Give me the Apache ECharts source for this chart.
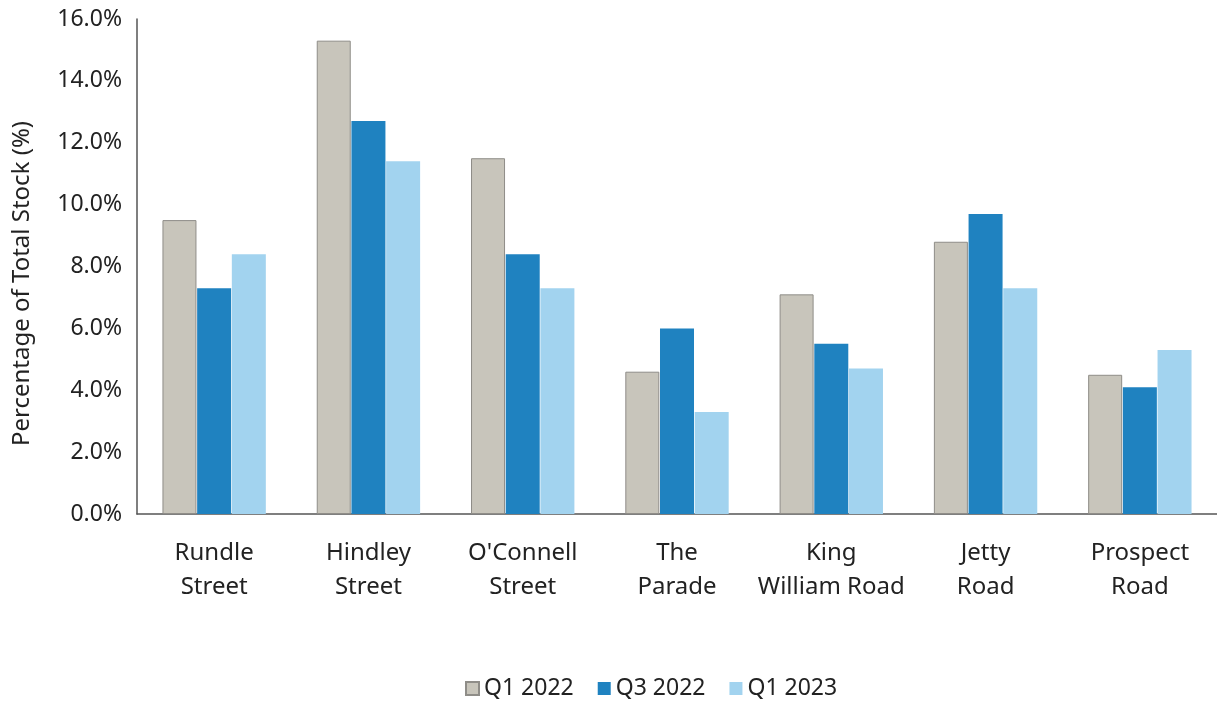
<!DOCTYPE html>
<html>
<head>
<meta charset="utf-8">
<script src="https://cdn.jsdelivr.net/npm/echarts@6/dist/echarts.min.js"></script>
<style>html,body{margin:0;padding:0;background:#fff}#c{width:1217px;height:702px}</style>
</head>
<body>
<div id="c"></div>
<script>
const categories = ["Rundle\nStreet", "Hindley\nStreet", "O'Connell\nStreet", "The\nParade", "King\nWilliam Road", "Jetty\nRoad", "Prospect\nRoad"];
const seriesNames = ["Q1 2022", "Q3 2022", "Q1 2023"];
const q1_2022 = [9.5, 15.3, 11.5, 4.6, 7.1, 8.8, 4.5];
const q3_2022 = [7.3, 12.7, 8.4, 6.0, 5.5, 9.7, 4.1];
const q1_2023 = [8.4, 11.4, 7.3, 3.3, 4.7, 7.3, 5.3];
const yTicks = [0, 2, 4, 6, 8, 10, 12, 14, 16];

const colors = ['#c8c5bb', '#1f82c0', '#a2d3ef'];
const font = 'Noto Sans';
const chart = echarts.init(document.getElementById('c'));
const mk = (name, data, i) => ({
  name, type: 'bar', data, barGap: '2%', barCategoryGap: '33%',
  itemStyle: { color: colors[i], borderColor: i === 0 ? '#8f8d88' : colors[i], borderWidth: i === 0 ? 1 : 0 }
});
chart.setOption({
  animation: false,
  textStyle: { fontFamily: font },
  grid: { left: 137, right: 0, top: 19, bottom: 188, containLabel: false, outerBoundsMode: 'none' },
  legend: {
    top: 672, left: 460, itemWidth: 13, itemHeight: 13, itemGap: 24,
    icon: 'rect',
    textStyle: { fontSize: 23, color: '#222', fontFamily: font },
    data: seriesNames
  },
  xAxis: {
    type: 'category', data: categories,
    axisLine: { lineStyle: { color: '#555', width: 1.5 } },
    axisTick: { show: false },
    axisLabel: { fontSize: 24, color: '#222', lineHeight: 34, margin: 22, fontFamily: font, interval: 0 }
  },
  yAxis: {
    type: 'value', min: yTicks[0], max: yTicks[yTicks.length - 1], interval: 2,
    name: 'Percentage of Total Stock (%)', nameLocation: 'middle', nameGap: 103,
    nameTextStyle: { fontSize: 24, color: '#222', fontFamily: font, padding: [0, 34, 0, 0] },
    axisLine: { show: true, lineStyle: { color: '#555', width: 1.5 } },
    axisTick: { show: false },
    splitLine: { show: false },
    axisLabel: { fontSize: 23, color: '#222', margin: 15, fontFamily: font, formatter: v => v.toFixed(1) + '%' }
  },
  series: [mk(seriesNames[0], q1_2022, 0), mk(seriesNames[1], q3_2022, 1), mk(seriesNames[2], q1_2023, 2)]
});
</script>
</body>
</html>
